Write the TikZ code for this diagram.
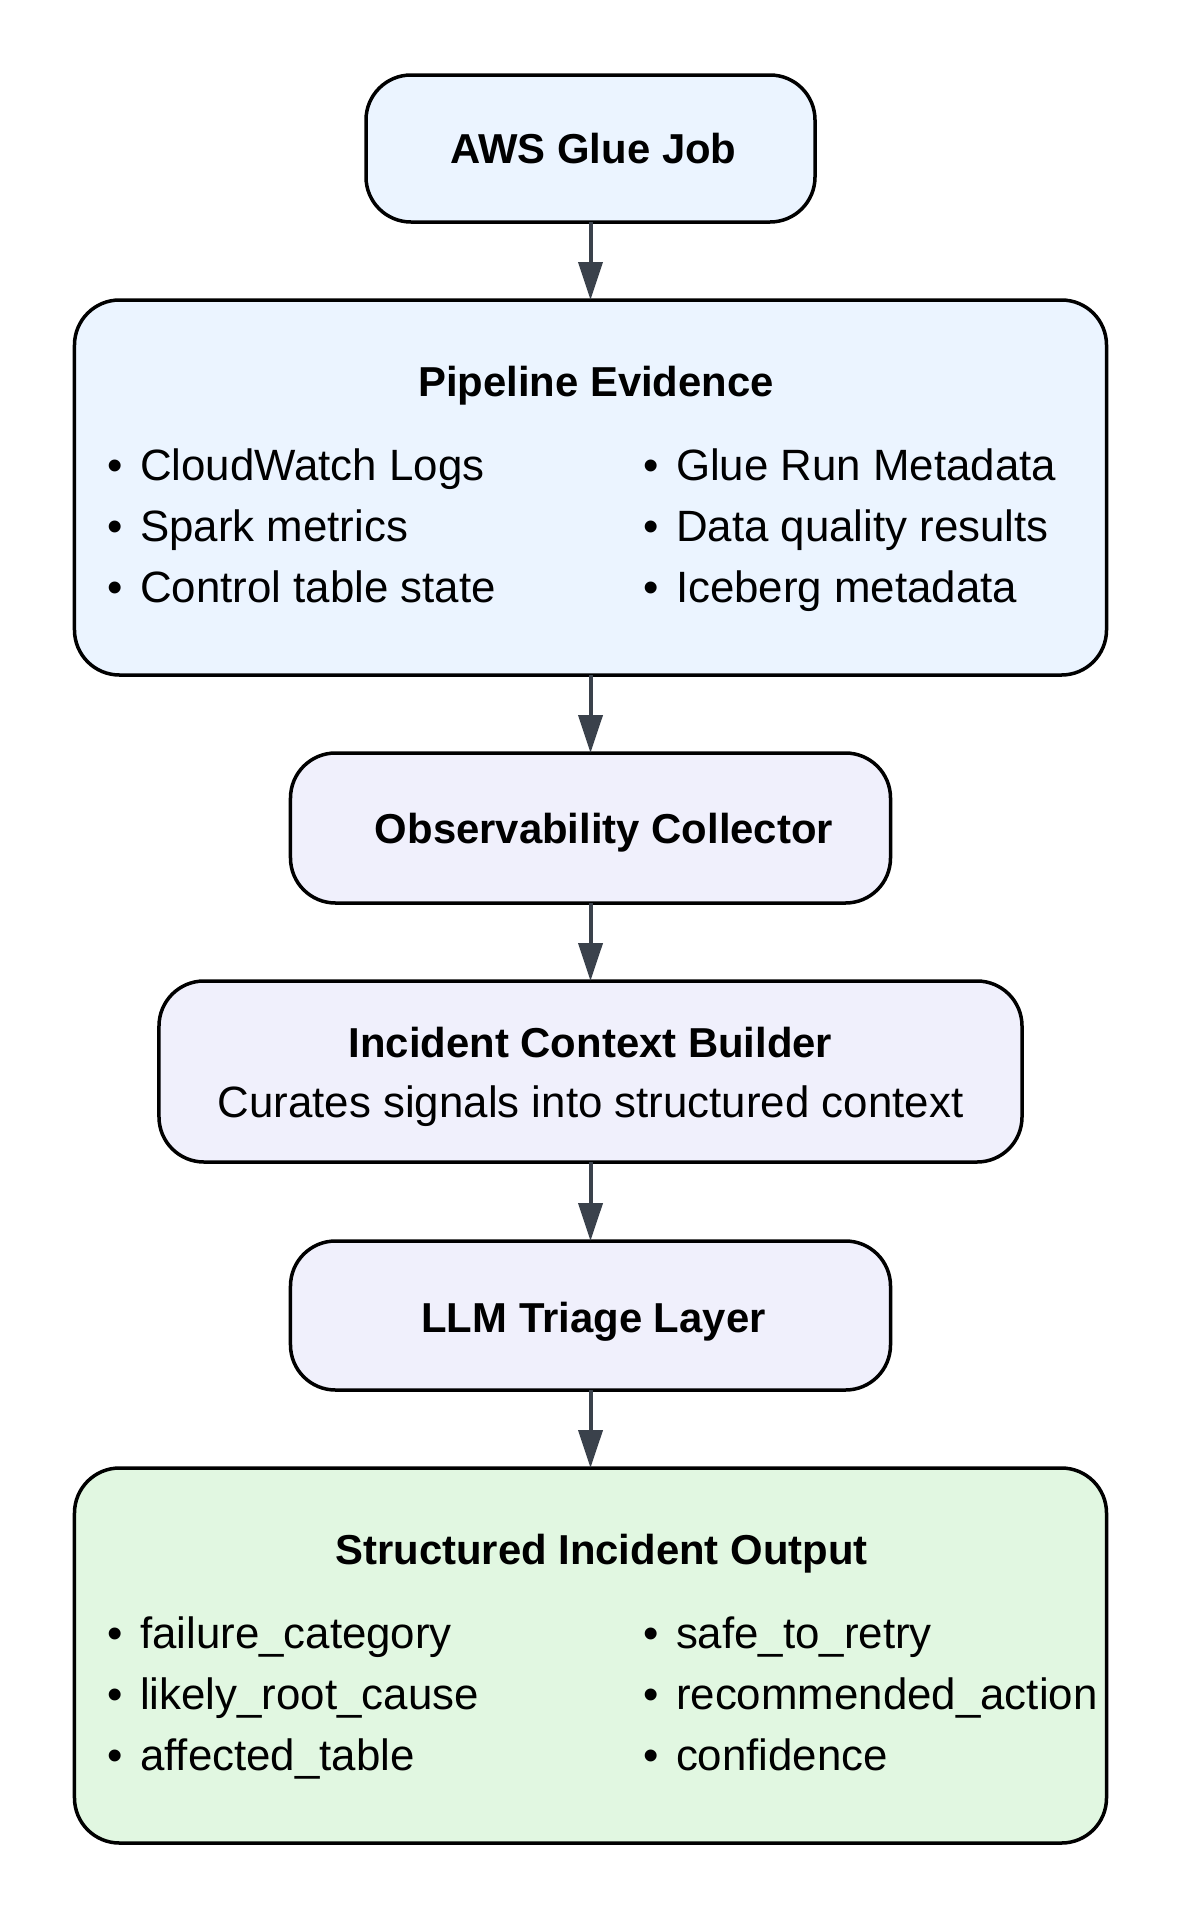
\documentclass[tikz,border=0pt]{standalone}
\usepackage{fontspec}
\setmainfont{Liberation Sans}
\usetikzlibrary{arrows.meta}
\definecolor{bluefill}{HTML}{EBF4FF}
\definecolor{lavfill}{HTML}{F0F0FC}
\definecolor{greenfill}{HTML}{E1F7E1}
\definecolor{arrowcol}{HTML}{3A414B}
\newcommand{\bulit}[1]{•\hspace{0.4em}#1}
\tikzset{
  box/.style={draw=black, line width=3.5bp, rounded corners=45bp, inner sep=0pt, outer sep=0pt},
  ttl/.style={anchor=base, inner sep=0pt, font=\fontsize{42}{48}\selectfont\bfseries},
  body/.style={anchor=base, inner sep=0pt, font=\fontsize{44}{50}\selectfont},
  item/.style={anchor=base west, inner sep=0pt, font=\fontsize{44}{50}\selectfont},
  arr/.style={draw=arrowcol, line width=4bp, -{Triangle[width=24bp,length=38bp]}, shorten >=0bp}
}
\begin{document}
\begin{tikzpicture}[x=1bp,y=-1bp]
\useasboundingbox[fill=white] (0,0) rectangle (1181,1918);
% boxes
\node[box, fill=bluefill, minimum width=449bp, minimum height=147bp] (glue) at (590.5,148.5) {};
\node[box, fill=bluefill, minimum width=1032bp, minimum height=375bp] (pipe) at (590.5,487.5) {};
\node[box, fill=lavfill, minimum width=600bp, minimum height=150bp] (obs) at (590.5,828) {};
\node[box, fill=lavfill, minimum width=863bp, minimum height=181bp] (ctx) at (590.5,1071.5) {};
\node[box, fill=lavfill, minimum width=600bp, minimum height=149bp] (llm) at (590.5,1315.5) {};
\node[box, fill=greenfill, minimum width=1032bp, minimum height=375bp] (out) at (590.5,1655.5) {};
% texts
\node[ttl] (tglue) at (593.5,163) {AWS Glue Job};
\node[ttl] (tpipe) at (596,396) {Pipeline Evidence};
\node[item] (p1) at (107,480) {\bulit{CloudWatch Logs}};
\node[item] (p2) at (107,541) {\bulit{Spark metrics}};
\node[item] (p3) at (107,602) {\bulit{Control table state}};
\node[item] (p4) at (643,480) {\bulit{Glue Run Metadata}};
\node[item] (p5) at (643,541) {\bulit{Data quality results}};
\node[item] (p6) at (643,602) {\bulit{Iceberg metadata}};
\node[ttl] (tobs) at (604,843) {Observability Collector};
\node[ttl] (tctx) at (590.5,1057) {Incident Context Builder};
\node[body] (sctx) at (590.5,1117) {Curates signals into structured context};
\node[ttl] (tllm) at (593.5,1332) {LLM Triage Layer};
\node[ttl] (tout) at (601.5,1564) {Structured Incident Output};
\node[item] (o1) at (107,1648) {\bulit{failure\_category}};
\node[item] (o2) at (107,1709) {\bulit{likely\_root\_cause}};
\node[item] (o3) at (107,1770) {\bulit{affected\_table}};
\node[item] (o4) at (643,1648) {\bulit{safe\_to\_retry}};
\node[item] (o5) at (643,1709) {\bulit{recommended\_action}};
\node[item] (o6) at (643,1770) {\bulit{confidence}};
% arrows
\draw[arr] (glue.south) -- (pipe.north);
\draw[arr] (pipe.south) -- (obs.north);
\draw[arr] (obs.south) -- (ctx.north);
\draw[arr] (ctx.south) -- (llm.north);
\draw[arr] (llm.south) -- (out.north);
\end{tikzpicture}
\end{document}
